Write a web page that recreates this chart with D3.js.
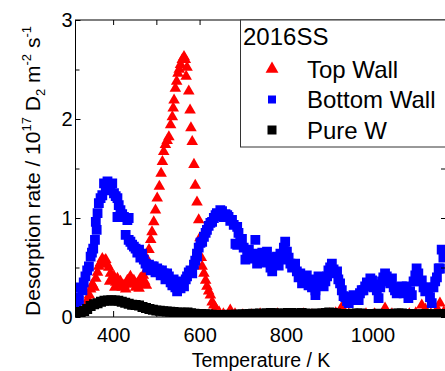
<!DOCTYPE html>
<html>
<head>
<meta charset="utf-8">
<script src="https://cdn.jsdelivr.net/npm/d3@7"></script>
<style>
  html, body { margin: 0; padding: 0; background: #fff; }
  svg { display: block; font-family: "Liberation Sans", Arial, sans-serif; }
</style>
</head>
<body>
<svg id="chart" width="445" height="371"></svg>
<script>
// series: [temperature K, rate 1e17 D2 m^-2 s^-1]
const topWall = [
  [330, 0.05], [338, 0.12], [342, 0.18], [345, 0.22], [348, 0.28], [352, 0.33], [356, 0.3],
  [360, 0.39], [364, 0.45], [367, 0.51], [371, 0.55], [375, 0.59], [379, 0.57], [383, 0.58],
  [386, 0.53], [390, 0.5], [392, 0.36], [394, 0.44], [398, 0.38], [402, 0.41], [404, 0.3],
  [406, 0.35], [410, 0.39], [414, 0.33], [417, 0.36], [421, 0.3], [425, 0.32], [429, 0.28],
  [433, 0.37], [437, 0.33], [440, 0.41], [444, 0.35], [448, 0.37], [452, 0.3], [456, 0.34],
  [460, 0.29], [463, 0.39], [467, 0.33], [470, 0.42], [473, 0.36], [475, 0.46], [477, 0.32],
  [479, 0.58], [481, 0.5], [483, 0.68], [487, 0.78], [490, 0.86], [494, 0.96], [498, 1.08],
  [502, 1.2], [507, 1.32], [511, 1.45], [514, 1.57], [517, 1.67], [521, 1.74], [525, 1.78],
  [529, 1.82], [533, 1.94], [537, 2.02], [539, 2.11], [541, 2.19], [544, 2.31], [547, 2.38],
  [550, 2.46], [553, 2.5], [556, 2.55], [560, 2.6], [564, 2.63], [567, 2.6], [569, 2.43],
  [571, 2.52], [575, 2.28], [578, 2.09], [580, 1.91], [583, 1.77], [587, 1.54], [590, 1.33],
  [594, 1.16], [598, 0.98], [601, 0.8], [604, 0.6], [606, 0.51], [610, 0.44], [614, 0.37],
  [617, 0.31], [621, 0.26], [625, 0.22], [629, 0.15], [633, 0.12], [637, 0.09], [645, 0.05],
  [655, 0.03], [671, 0.07], [682, 0.03], [700, 0.02], [720, 0.02], [740, 0.03], [760, 0.02],
  [780, 0.03], [800, 0.02], [820, 0.02], [840, 0.03], [860, 0.02], [880, 0.02], [900, 0.03],
  [915, 0.04], [929, 0.1], [945, 0.03], [965, 0.02], [985, 0.03], [1005, 0.03], [1029, 0.09],
  [1045, 0.03], [1065, 0.02], [1085, 0.03], [1100, 0.04], [1114, 0.12], [1122, 0.08],
  [1135, 0.03], [1150, 0.08], [1156, 0.14], [1165, 0.05]
];

const bottomWall = [
  [316, 0.12], [319, 0.2], [321, 0.17], [324, 0.3], [329, 0.27], [332, 0.35], [336, 0.41],
  [340, 0.47], [344, 0.51], [348, 0.61], [351, 0.65], [354, 0.69], [358, 0.78], [360, 0.96],
  [362, 0.88], [364, 1.05], [367, 1.15], [371, 1.2], [375, 1.23], [379, 1.35], [383, 1.3],
  [387, 1.37], [391, 1.28], [394, 1.33], [398, 1.35], [402, 1.25], [406, 1.22], [410, 1.2],
  [410, 1.01], [413, 1.13], [417, 1.08], [421, 1.04], [425, 1.01], [429, 0.83], [433, 0.98],
  [436, 1.0], [436, 0.78], [440, 0.76], [444, 0.73], [448, 0.71], [452, 0.69], [456, 0.65],
  [460, 0.68], [463, 0.6], [467, 0.64], [471, 0.58], [475, 0.54], [479, 0.5], [483, 0.53],
  [487, 0.47], [490, 0.51], [494, 0.51], [498, 0.45], [502, 0.49], [506, 0.47], [510, 0.42],
  [513, 0.47], [517, 0.44], [521, 0.38], [525, 0.44], [529, 0.41], [533, 0.35], [537, 0.32],
  [540, 0.38], [544, 0.3], [548, 0.26], [552, 0.33], [556, 0.29], [560, 0.36], [564, 0.31],
  [568, 0.38], [571, 0.41], [575, 0.45], [579, 0.47], [583, 0.44], [587, 0.53], [590, 0.57],
  [594, 0.61], [594, 0.64], [598, 0.7], [602, 0.75], [606, 0.76], [610, 0.81], [614, 0.85],
  [617, 0.88], [621, 0.92], [625, 0.95], [629, 0.96], [633, 1.0], [637, 1.03], [640, 1.05],
  [644, 1.02], [648, 1.08], [652, 1.07], [656, 1.01], [660, 1.04], [664, 1.03], [667, 1.01],
  [671, 0.97], [675, 0.98], [679, 0.93], [683, 0.74], [687, 0.91], [687, 0.73], [690, 0.85],
  [694, 0.76], [698, 0.79], [702, 0.7], [706, 0.58], [710, 0.66], [714, 0.68], [717, 0.62],
  [721, 0.59], [725, 0.64], [729, 0.78], [733, 0.54], [737, 0.62], [741, 0.58], [745, 0.65],
  [749, 0.6], [752, 0.55], [756, 0.66], [760, 0.6], [764, 0.5], [768, 0.46], [772, 0.58],
  [775, 0.55], [779, 0.61], [783, 0.52], [787, 0.64], [791, 0.58], [795, 0.7], [798, 0.76],
  [802, 0.66], [806, 0.6], [810, 0.54], [814, 0.5], [818, 0.53], [821, 0.54], [825, 0.46],
  [829, 0.4], [833, 0.44], [837, 0.34], [841, 0.4], [845, 0.36], [848, 0.42], [852, 0.37],
  [852, 0.32], [856, 0.38], [860, 0.3], [864, 0.35], [868, 0.27], [868, 0.22], [872, 0.36],
  [875, 0.41], [879, 0.38], [883, 0.33], [887, 0.31], [891, 0.36], [895, 0.41], [898, 0.47],
  [902, 0.5], [906, 0.54], [910, 0.48], [914, 0.44], [918, 0.46], [921, 0.38], [925, 0.34],
  [929, 0.27], [933, 0.21], [937, 0.2], [941, 0.16], [945, 0.14], [948, 0.2], [952, 0.18],
  [956, 0.22], [960, 0.17], [964, 0.19], [968, 0.17], [971, 0.24], [975, 0.27], [979, 0.27],
  [983, 0.31], [987, 0.35], [991, 0.33], [995, 0.39], [999, 0.37], [1002, 0.3], [1006, 0.33],
  [1010, 0.27], [1014, 0.19], [1018, 0.3], [1022, 0.36], [1025, 0.4], [1029, 0.44], [1033, 0.41],
  [1037, 0.36], [1041, 0.34], [1045, 0.39], [1049, 0.3], [1052, 0.27], [1056, 0.24], [1060, 0.3],
  [1064, 0.28], [1068, 0.31], [1072, 0.24], [1075, 0.27], [1079, 0.31], [1083, 0.19], [1087, 0.26],
  [1091, 0.22], [1095, 0.36], [1099, 0.42], [1102, 0.49], [1106, 0.44], [1110, 0.36], [1114, 0.37],
  [1118, 0.3], [1122, 0.26], [1125, 0.3], [1129, 0.27], [1133, 0.2], [1137, 0.14], [1141, 0.3],
  [1145, 0.36], [1149, 0.4], [1153, 0.49], [1156, 0.49], [1160, 0.68], [1164, 0.6]
];

const pureW = [
  [317, 0.04], [325, 0.05], [333, 0.06], [340, 0.08], [348, 0.11], [356, 0.13], [364, 0.14],
  [372, 0.155], [380, 0.165], [388, 0.167], [396, 0.17], [404, 0.167], [412, 0.165], [420, 0.155],
  [428, 0.145], [436, 0.135], [444, 0.125], [452, 0.12], [460, 0.115], [468, 0.1], [476, 0.09],
  [484, 0.08], [492, 0.072], [500, 0.066], [508, 0.062], [516, 0.058], [524, 0.055], [532, 0.052],
  [540, 0.05], [548, 0.045], [556, 0.042], [564, 0.042], [572, 0.045], [580, 0.038], [588, 0.033],
  [596, 0.03], [604, 0.03], [612, 0.028], [620, 0.025], [628, 0.022], [636, 0.02], [644, 0.02],
  [652, 0.018], [660, 0.02], [668, 0.022], [676, 0.02], [684, 0.022], [692, 0.025], [700, 0.025],
  [708, 0.028], [716, 0.03], [724, 0.033], [732, 0.03], [740, 0.035], [748, 0.03], [756, 0.035],
  [764, 0.04], [772, 0.038], [780, 0.035], [788, 0.03], [796, 0.035], [804, 0.04], [812, 0.04],
  [820, 0.035], [828, 0.03], [836, 0.04], [844, 0.035], [852, 0.028], [860, 0.03], [868, 0.035],
  [876, 0.03], [884, 0.035], [892, 0.04], [900, 0.045], [908, 0.04], [916, 0.035], [924, 0.03],
  [932, 0.03], [940, 0.028], [948, 0.03], [956, 0.032], [964, 0.035], [972, 0.035], [980, 0.03],
  [988, 0.03], [996, 0.028], [1004, 0.03], [1012, 0.032], [1020, 0.03], [1028, 0.03], [1036, 0.028],
  [1044, 0.03], [1052, 0.032], [1060, 0.035], [1068, 0.035], [1076, 0.03], [1084, 0.03],
  [1092, 0.028], [1100, 0.025], [1108, 0.025], [1116, 0.028], [1124, 0.03], [1132, 0.028],
  [1140, 0.025], [1148, 0.025], [1156, 0.028], [1164, 0.03]
];

const xTicks = [400, 600, 800, 1000];
const xMinorTicks = [500, 700, 900, 1100];
const yTicks = [0, 1, 2, 3];
const yMinorTicks = [0.5, 1.5, 2.5];
const legendTitle = '2016SS';
const seriesNames = ['Top Wall', 'Bottom Wall', 'Pure W'];

const plotLeft = 75.5, plotRight = 446, plotTop = 20, plotBottom = 317;

const svg = d3.select('#chart');

const x = d3.scaleLinear()
  .domain([313, 1170])
  .range([plotLeft, plotRight]);

const y = d3.scaleLinear()
  .domain([0, 3])
  .range([plotBottom, plotTop]);

svg.append('defs').append('clipPath')
  .attr('id', 'plot-clip')
  .append('rect')
  .attr('x', plotLeft).attr('y', plotTop)
  .attr('width', plotRight - plotLeft).attr('height', plotBottom - plotTop);

// markers, drawn in legend order so Pure W ends up on top
const tri = d3.symbol().type(d3.symbolTriangle).size(58);
const sq = d3.symbol().type(d3.symbolSquare).size(96);
const sqBlack = d3.symbol().type(d3.symbolSquare).size(100);

const marks = svg.append('g').attr('clip-path', 'url(#plot-clip)');

function drawSeries(data, sym, color) {
  marks.append('g')
    .selectAll('path')
    .data(data)
    .join('path')
    .attr('d', sym)
    .attr('transform', d => `translate(${x(d[0])},${y(d[1])})`)
    .attr('fill', color);
}

drawSeries(topWall, tri, '#ff0000');
drawSeries(bottomWall, sq, '#0000ff');
drawSeries(pureW, sqBlack, '#000000');

// axes: ticks point inward, mirrored on top and right
const tickFont = g => g.selectAll('text')
  .attr('font-size', 20)
  .attr('font-family', '"Liberation Sans", Arial, sans-serif')
  .attr('fill', '#000');

function cleanAxis(g) {
  g.select('.domain').remove();
  g.selectAll('line').attr('stroke', '#000');
}

svg.append('g')
  .attr('transform', `translate(0,${plotBottom})`)
  .call(d3.axisBottom(x).tickValues(xTicks).tickSizeInner(-6).tickSizeOuter(0).tickPadding(11).tickFormat(d3.format('d')))
  .call(cleanAxis)
  .call(tickFont);

svg.append('g')
  .attr('transform', `translate(0,${plotBottom})`)
  .call(d3.axisBottom(x).tickValues(xMinorTicks).tickSizeInner(-4).tickSizeOuter(0).tickFormat(''))
  .call(cleanAxis);

svg.append('g')
  .attr('transform', `translate(0,${plotTop})`)
  .call(d3.axisTop(x).tickValues(xTicks.concat(xMinorTicks)).tickSizeInner(-5).tickSizeOuter(0).tickFormat(''))
  .call(cleanAxis);

svg.append('g')
  .attr('transform', `translate(${plotLeft},0)`)
  .call(d3.axisLeft(y).tickValues(yTicks).tickSizeInner(-5).tickSizeOuter(0).tickPadding(3).tickFormat(d3.format('d')))
  .call(cleanAxis)
  .call(tickFont);

svg.append('g')
  .attr('transform', `translate(${plotLeft},0)`)
  .call(d3.axisLeft(y).tickValues(yMinorTicks).tickSizeInner(-4).tickSizeOuter(0).tickFormat(''))
  .call(cleanAxis);

svg.append('g')
  .attr('transform', `translate(${plotRight},0)`)
  .call(d3.axisRight(y).tickValues(yTicks.concat(yMinorTicks)).tickSizeInner(-5).tickSizeOuter(0).tickFormat(''))
  .call(cleanAxis);

// frame
svg.append('rect')
  .attr('x', plotLeft).attr('y', plotTop)
  .attr('width', plotRight - plotLeft).attr('height', plotBottom - plotTop)
  .attr('fill', 'none')
  .attr('stroke', '#000')
  .attr('stroke-width', 1);

// axis titles
svg.append('text')
  .attr('x', 261)
  .attr('y', 367)
  .attr('text-anchor', 'middle')
  .attr('font-size', 19.5)
  .text('Temperature / K');

const yTitle = svg.append('text')
  .attr('transform', 'translate(40,171) rotate(-90)')
  .attr('text-anchor', 'middle')
  .attr('font-size', 21);
yTitle.append('tspan').text('Desorption rate / 10');
yTitle.append('tspan').attr('font-size', 13).attr('dy', -9).text('17');
yTitle.append('tspan').attr('dy', 9).text(' D');
yTitle.append('tspan').attr('font-size', 13).attr('dy', 5).text('2');
yTitle.append('tspan').attr('dy', -5).text(' m');
yTitle.append('tspan').attr('font-size', 13).attr('dy', -9).text('-2');
yTitle.append('tspan').attr('dy', 9).text(' s');
yTitle.append('tspan').attr('font-size', 13).attr('dy', -9).text('-1');

// legend
const legend = svg.append('g');
legend.append('rect')
  .attr('x', 240.5).attr('y', plotTop)
  .attr('width', 220).attr('height', 127)
  .attr('fill', '#fff')
  .attr('stroke', '#333')
  .attr('stroke-width', 1);

legend.append('text')
  .attr('x', 243).attr('y', 45)
  .attr('font-size', 24)
  .text(legendTitle);

const legendSyms = [
  d3.symbol().type(d3.symbolTriangle).size(72),
  d3.symbol().type(d3.symbolSquare).size(64),
  d3.symbol().type(d3.symbolSquare).size(81)
];
const legendColors = ['#ff0000', '#0000ff', '#000000'];

seriesNames.forEach((name, i) => {
  const cy = 69 + i * 30.5;
  legend.append('path')
    .attr('d', legendSyms[i])
    .attr('transform', `translate(272,${cy})`)
    .attr('fill', legendColors[i]);
  legend.append('text')
    .attr('x', 307).attr('y', cy + 8.5)
    .attr('font-size', 24)
    .text(name);
});
</script>
</body>
</html>
